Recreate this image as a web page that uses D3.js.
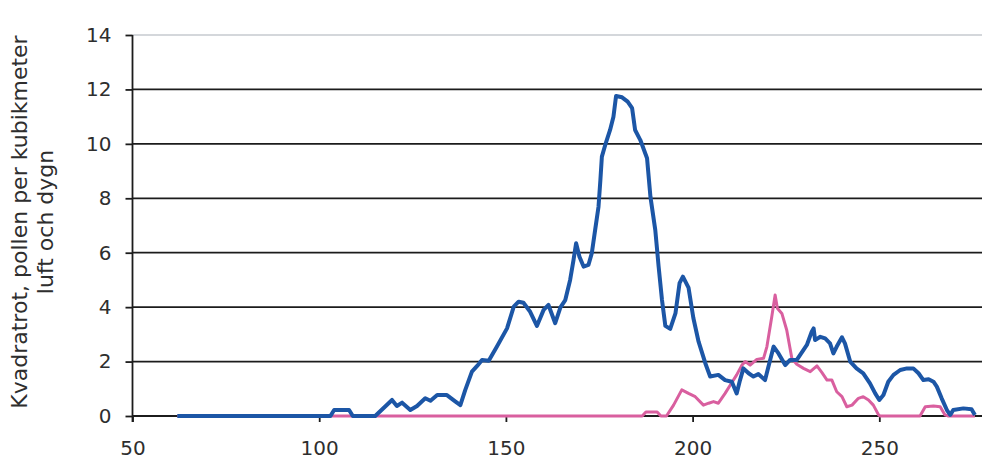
<!DOCTYPE html>
<html>
<head>
<meta charset="utf-8">
<script src="https://cdn.jsdelivr.net/npm/d3@7"></script>
<style>
  html, body { margin: 0; padding: 0; background: #fff; }
  svg { display: block; }
</style>
</head>
<body>
<svg id="chart" width="983" height="463"></svg>
<script>
// ---- data ----
const xTicks = [50, 100, 150, 200, 250];
const yTicks = [0, 2, 4, 6, 8, 10, 12, 14];
const yTitleLines = ["Kvadratrot, pollen per kubikmeter", "luft och dygn"];

const blueDays = [62, 103, 104, 108, 109, 115, 119.5, 120.8, 122.2, 124.4, 126.2, 128.4, 129.8, 131.6, 134.2, 136.5, 137.8, 139.1, 140.9, 142.3, 143.6, 145.4, 147.6, 150.3, 152.1, 153.4, 154.7, 156.5, 158.3, 160.1, 161.4, 163.2, 164.6, 165.9, 167.2, 168.1, 168.8, 169.7, 170.8, 172.1, 173.0, 173.9, 174.8, 175.3, 175.7, 176.6, 177.9, 178.8, 179.5, 181.1, 182.6, 183.8, 184.6, 186.0, 187.8, 188.7, 190.0, 190.9, 191.8, 192.7, 194.0, 195.4, 196.5, 197.4, 198.9, 200.2, 201.6, 203.4, 204.7, 206.9, 208.7, 210.5, 211.8, 212.7, 213.6, 215.0, 216.3, 217.6, 219.4, 220.3, 221.7, 223.0, 224.8, 226.1, 227.9, 229.7, 230.6, 231.9, 232.4, 232.8, 234.2, 235.5, 236.8, 237.7, 238.6, 240.0, 240.8, 242.2, 243.9, 245.7, 247.5, 248.9, 250.0, 251.1, 252.4, 253.8, 255.6, 257.4, 259.1, 260.5, 261.8, 263.2, 264.5, 265.4, 266.7, 268.1, 269.0, 269.8, 272.5, 274.7, 275.6];
const blueValues = [0, 0, 0.22, 0.22, 0, 0, 0.59, 0.37, 0.49, 0.22, 0.37, 0.65, 0.56, 0.77, 0.77, 0.53, 0.40, 0.95, 1.63, 1.84, 2.06, 2.03, 2.55, 3.22, 4.02, 4.20, 4.16, 3.83, 3.31, 3.90, 4.08, 3.41, 3.99, 4.26, 5.0, 5.73, 6.35, 5.85, 5.49, 5.55, 5.98, 6.84, 7.69, 8.67, 9.53, 9.96, 10.51, 11.0, 11.76, 11.71, 11.55, 11.31, 10.51, 10.14, 9.47, 8.06, 6.84, 5.49, 4.26, 3.31, 3.2, 3.77, 4.88, 5.12, 4.72, 3.6, 2.73, 1.94, 1.45, 1.51, 1.32, 1.26, 0.83, 1.32, 1.75, 1.57, 1.45, 1.54, 1.32, 1.81, 2.55, 2.30, 1.87, 2.06, 2.06, 2.43, 2.61, 3.10, 3.22, 2.79, 2.91, 2.85, 2.67, 2.30, 2.55, 2.89, 2.67, 2.0, 1.75, 1.57, 1.20, 0.83, 0.59, 0.77, 1.26, 1.51, 1.69, 1.75, 1.75, 1.57, 1.32, 1.35, 1.26, 1.08, 0.65, 0.22, 0.04, 0.22, 0.28, 0.25, 0.04];

const pinkDays = [62, 186.5, 187.5, 190.5, 191.5, 193, 194.9, 197.1, 198.9, 200.7, 202.9, 204.3, 205.6, 206.9, 208.7, 210.1, 211.8, 213.2, 214.1, 215.4, 217.2, 219.0, 219.9, 221.2, 222.1, 222.7, 223.9, 225.2, 226.6, 227.9, 229.7, 231.5, 233.3, 234.6, 236.0, 237.3, 238.6, 240.0, 241.3, 242.7, 244.4, 245.7, 247.1, 248.4, 249.8, 250.2, 260.9, 262.3, 264.5, 266.3, 267.6, 268.5, 275.6];
const pinkValues = [0, 0, 0.15, 0.15, 0, 0, 0.4, 0.96, 0.83, 0.71, 0.40, 0.47, 0.53, 0.47, 0.83, 1.14, 1.51, 1.87, 2.0, 1.87, 2.08, 2.12, 2.55, 3.65, 4.45, 3.96, 3.77, 3.16, 2.1, 1.9, 1.75, 1.63, 1.84, 1.6, 1.32, 1.32, 0.89, 0.71, 0.34, 0.40, 0.65, 0.71, 0.59, 0.40, 0.04, 0, 0, 0.34, 0.37, 0.34, 0.04, 0, 0];

// ---- chart ----
(function () {
const svg = d3.select("#chart");
const mLeft = 132.5, mRight = 982, mTop = 35, mBottom = 416;
const x = d3.scaleLinear().domain([50, 277.5]).range([mLeft, mRight]);
const y = d3.scaleLinear().domain([0, 14]).range([mBottom, mTop]);
const textColor = "#2e2e2e";
const font = "'DejaVu Sans', Verdana, sans-serif";

// gridlines
svg.append("g").selectAll("line").data(yTicks.filter(d => d > 0)).join("line")
  .attr("x1", mLeft).attr("x2", mRight)
  .attr("y1", d => y(d)).attr("y2", d => y(d))
  .attr("stroke", d => d === 14 ? "#a9b0b8" : "#1c1c1c")
  .attr("stroke-width", d => d === 14 ? 1.2 : 1.8);

// y axis
const yAxis = svg.append("g").attr("transform", `translate(${mLeft},0)`)
  .call(d3.axisLeft(y).tickValues(yTicks).tickSize(7).tickPadding(14).tickFormat(d3.format("d")));
yAxis.select(".domain").remove();
yAxis.selectAll(".tick line").attr("stroke", "#1c1c1c").attr("stroke-width", 1.8);
yAxis.selectAll("text").attr("font-family", font).attr("font-size", 20).attr("fill", textColor);
svg.append("line").attr("x1", mLeft).attr("x2", mLeft).attr("y1", mTop).attr("y2", mBottom + 6)
  .attr("stroke", "#1c1c1c").attr("stroke-width", 1.8);

// x axis
const xAxis = svg.append("g").attr("transform", `translate(0,${mBottom})`)
  .call(d3.axisBottom(x).tickValues(xTicks).tickSize(6).tickPadding(19).tickFormat(d3.format("d")));
xAxis.select(".domain").attr("stroke", "#1c1c1c").attr("stroke-width", 1.8)
  .attr("d", `M${mLeft},0H${mRight}`);
xAxis.selectAll(".tick line").attr("stroke", "#1c1c1c").attr("stroke-width", 1.8);
xAxis.selectAll("text").attr("font-family", font).attr("font-size", 20).attr("fill", textColor);

// y title
const yTitle = svg.append("text")
  .attr("transform", "translate(27,222) rotate(-90)")
  .attr("text-anchor", "middle")
  .attr("font-family", font).attr("font-size", 22).attr("fill", textColor);
yTitle.selectAll("tspan").data(yTitleLines).join("tspan")
  .attr("x", 0).attr("dy", (d, i) => i === 0 ? 0 : 26)
  .text(d => d);

// lines
const line = d3.line().x(d => x(d[0])).y(d => y(d[1])).curve(d3.curveLinear);
const pinkData = d3.zip(pinkDays, pinkValues);
const blueData = d3.zip(blueDays, blueValues);
svg.append("path").datum(pinkData).attr("d", line)
  .attr("fill", "none").attr("stroke", "#d95f9f").attr("stroke-width", 3)
  .attr("stroke-linejoin", "round");
svg.append("path").datum(blueData).attr("d", line)
  .attr("fill", "none").attr("stroke", "#1c56a6").attr("stroke-width", 4)
  .attr("stroke-linejoin", "round");
})();
</script>
</body>
</html>
